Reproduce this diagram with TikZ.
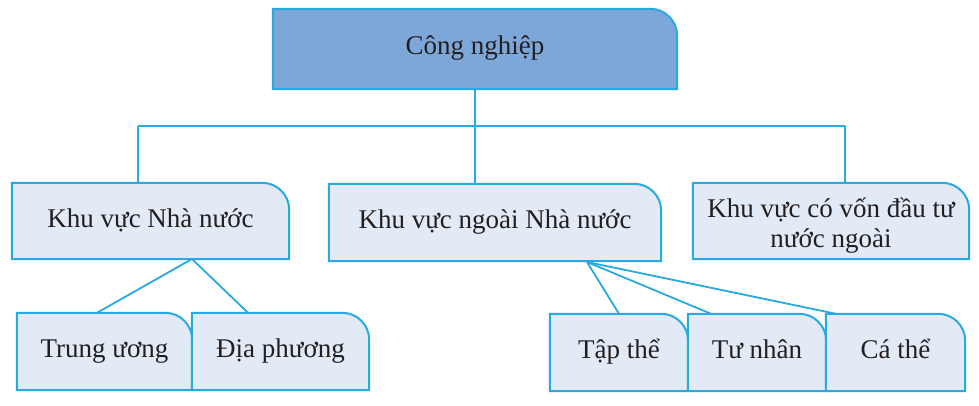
\documentclass[tikz,border=0pt]{standalone}
\usepackage{fontspec}
\setmainfont{Liberation Serif}
\usetikzlibrary{calc,backgrounds}
\definecolor{edge}{HTML}{29A9E1}
\definecolor{topfill}{HTML}{7DA7D9}
\definecolor{boxfill}{HTML}{E2EAF6}
\definecolor{txt}{HTML}{231F20}
\newcommand\roundbox[2]{%
  \draw[#2] (#1.south west) -- (#1.north west) -- ($(#1.north east)+(-27pt,0)$)
    arc[start angle=90,end angle=0,radius=27pt] -- (#1.south east) -- cycle;}
\begin{document}
\begin{tikzpicture}[x=1pt,y=1pt,
  lbl/.style={inner sep=0pt,font=\fontsize{27}{29.5}\selectfont,text=txt,align=center,
    text height=18pt,text depth=6pt},
  twolines/.style={text height=60pt,text depth=8pt},
  topshape/.style={draw=edge,line width=2pt,fill=topfill},
  subshape/.style={draw=edge,line width=2pt,fill=boxfill},
  link/.style={draw=edge,line width=1.8pt}]
\useasboundingbox (0,0) rectangle (979,-406);
\node[lbl,minimum width=404,minimum height=80] (top) at (475,-49) {Công nghiệp};
\node[lbl,minimum width=277,minimum height=76] (A) at (150.5,-221) {Khu vực Nhà nước};
\node[lbl,minimum width=332,minimum height=77] (B) at (495,-222.5) {Khu vực ngoài Nhà nước};
\node[lbl,twolines,minimum width=276,minimum height=76] (C) at (831,-221) {Khu vực có vốn đầu tư\\nước ngoài};
\node[lbl,minimum width=175,minimum height=77] (T1) at (104.5,-351.5) {Trung ương};
\node[lbl,minimum width=177,minimum height=77] (T2) at (280.5,-351.5) {Địa phương};
\node[lbl,minimum width=138,minimum height=77] (P1) at (619,-352.5) {Tập thể};
\node[lbl,minimum width=138,minimum height=77] (P2) at (757,-352.5) {Tư nhân};
\node[lbl,minimum width=139,minimum height=77] (P3) at (895.5,-352.5) {Cá thể};
\begin{scope}[on background layer]
  \coordinate (hl) at (138,-126);
  \coordinate (hr) at (845,-126);
  \draw[link] (hl) -- (hr);
  \draw[link] (top.south) -- (top.south |- B.north);
  \draw[link] (hl) -- (hl |- A.north);
  \draw[link] (hr) -- (hr |- C.north);
  \coordinate (a0) at (192,-259);
  \coordinate (b0) at (587,-262);
  \draw[link] (a0) -- (97,-313 |- T1.north) coordinate (t1);
  \draw[link] (a0) -- (248,-313 |- T2.north) coordinate (t2);
  \draw[link] (b0) -- (619,-313 |- P1.north) coordinate (p1);
  \draw[link] (b0) -- (711,-313 |- P2.north) coordinate (p2);
  \draw[link] (b0) -- (836,-313 |- P3.north) coordinate (p3);
  \roundbox{top}{topshape}
  \roundbox{A}{subshape}
  \roundbox{B}{subshape}
  \roundbox{C}{subshape}
  \roundbox{T1}{subshape}
  \roundbox{T2}{subshape}
  \roundbox{P1}{subshape}
  \roundbox{P2}{subshape}
  \roundbox{P3}{subshape}
\end{scope}
\end{tikzpicture}
\end{document}
